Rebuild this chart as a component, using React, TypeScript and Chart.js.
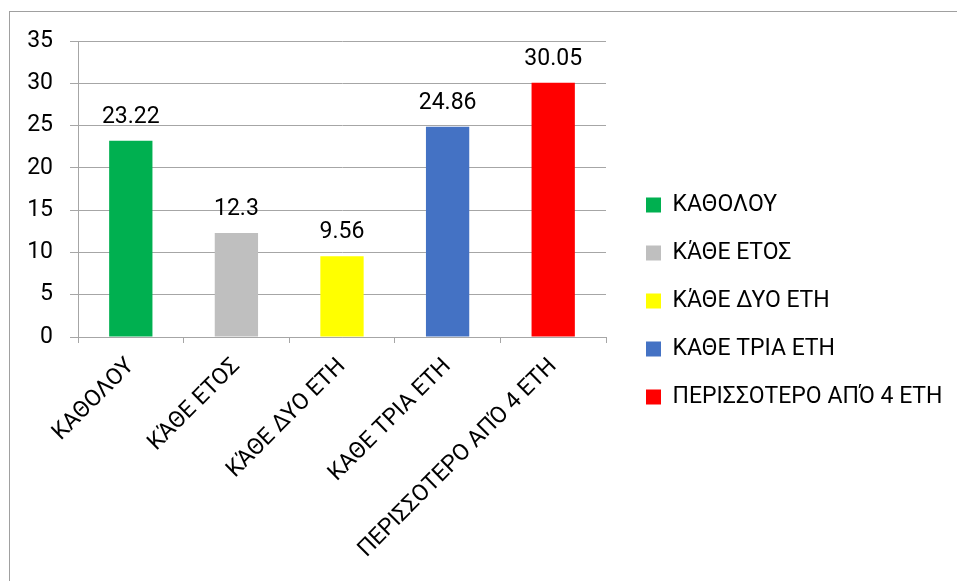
import React, { useEffect, useRef } from "react";
import { Chart, registerables } from "chart.js";

Chart.register(...registerables);

const categories = [
  "ΚΑΘΟΛΟΥ",
  "ΚΆΘΕ ΕΤΟΣ",
  "ΚΆΘΕ ΔΥΟ ΕΤΗ",
  "ΚΑΘΕ ΤΡΙΑ ΕΤΗ",
  "ΠΕΡΙΣΣΟΤΕΡΟ ΑΠΌ 4 ΕΤΗ",
];
const values = [23.22, 12.3, 9.56, 24.86, 30.05];
const valueLabels = ["23.22", "12.3", "9.56", "24.86", "30.05"];
const barColors = ["#00b050", "#bfbfbf", "#ffff00", "#4472c4", "#ff0000"];
const yMin = 0;
const yMax = 35;
const yStep = 5;

const FONT_FAMILY = "Roboto, 'Liberation Sans', sans-serif";
const FONT_SIZE = 23;
const W = 957;
const H = 581;
const GRID = "#a6a6a6";

const dataLabelPlugin = {
  id: "valueLabels",
  afterDatasetsDraw(chart: any) {
    const ctx = chart.ctx;
    const meta = chart.getDatasetMeta(0);
    ctx.save();
    ctx.font = `${FONT_SIZE}px ${FONT_FAMILY}`;
    ctx.fillStyle = "#000";
    ctx.textAlign = "center";
    ctx.textBaseline = "alphabetic";
    meta.data.forEach((bar: any, i: number) => {
      ctx.fillText(valueLabels[i], bar.x, bar.y - 18);
    });
    ctx.restore();
  },
};

export default function App() {
  const ref = useRef<HTMLCanvasElement | null>(null);

  useEffect(() => {
    const canvas = ref.current!;
    const mctx = canvas.getContext("2d")!;
    mctx.font = `${FONT_SIZE}px ${FONT_FAMILY}`;
    let maxText = 0;
    categories.forEach((c) => {
      maxText = Math.max(maxText, mctx.measureText(c).width);
    });
    const legendPad = 25;
    const boxW = 15;
    const legendWidth = legendPad + boxW + FONT_SIZE / 2 + maxText;
    const legendLeft = 620;
    const padRight = Math.max(0, W - legendLeft - legendWidth - 11);

    const chart = new Chart(canvas, {
      type: "bar",
      data: {
        labels: categories,
        datasets: [
          {
            data: values,
            backgroundColor: barColors,
            borderWidth: 0,
            barPercentage: 0.41,
            categoryPercentage: 1,
          },
        ],
      },
      plugins: [dataLabelPlugin],
      options: {
        responsive: false,
        animation: false,
        layout: { padding: { left: 10, top: 41, right: padRight, bottom: 20 } },
        scales: {
          x: {
            offset: true,
            grid: {
              display: true,
              drawOnChartArea: false,
              drawTicks: true,
              tickLength: 6,
              color: GRID,
              offset: true,
            },
            border: { display: true, color: GRID },
            ticks: {
              maxRotation: 45,
              minRotation: 45,
              autoSkip: false,
              color: "#000",
              padding: 10,
              font: { family: FONT_FAMILY, size: FONT_SIZE },
            },
            afterFit(scale: any) {
              scale.height = 224;
            },
          },
          y: {
            min: yMin,
            max: yMax,
            ticks: {
              stepSize: yStep,
              color: "#000",
              padding: 17,
              font: { family: FONT_FAMILY, size: FONT_SIZE },
            },
            grid: { color: GRID, tickLength: 8 },
            border: { display: true, color: GRID },
            afterFit(scale: any) {
              scale.width = 68;
            },
          },
          yR: {
            type: "linear",
            position: "right",
            display: true,
            grid: { display: false },
            border: { display: false },
            ticks: { display: false },
            afterFit(scale: any) {
              scale.width = 15;
            },
          },
        },
        plugins: {
          tooltip: { enabled: false },
          legend: {
            display: true,
            position: "right",
            align: "center",
            maxWidth: 500,
            onClick: () => {},
            labels: {
              boxWidth: boxW,
              boxHeight: 15,
              padding: legendPad,
              color: "#000",
              font: { family: FONT_FAMILY, size: FONT_SIZE },
              generateLabels: () =>
                categories.map((c, i) => ({
                  text: c,
                  fillStyle: barColors[i],
                  strokeStyle: barColors[i],
                  lineWidth: 0,
                  hidden: false,
                  index: i,
                  datasetIndex: 0,
                  fontColor: "#000",
                })),
            },
          },
        },
      },
    } as any);
    return () => chart.destroy();
  }, []);

  return (
    <div style={{ position: "fixed", left: 0, top: 0, width: W, height: H, background: "#fff" }}>
      <div
        style={{
          position: "absolute",
          left: 9,
          top: 11,
          width: W - 9,
          height: H - 11,
          borderTop: "1px solid #a0a0a0",
          borderLeft: "1px solid #a0a0a0",
          boxSizing: "border-box",
        }}
      />
      <canvas
        ref={ref}
        width={W}
        height={H}
        style={{ position: "absolute", left: 0, top: 0, width: W, height: H }}
      />
    </div>
  );
}
